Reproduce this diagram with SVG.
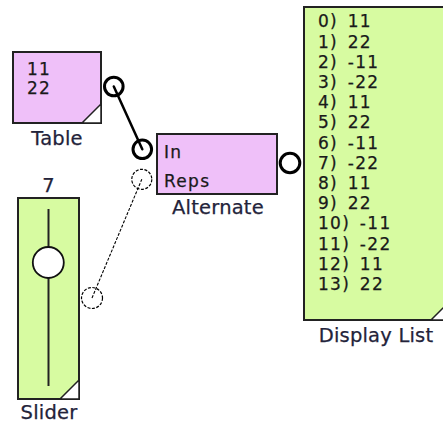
<svg xmlns="http://www.w3.org/2000/svg" width="443" height="426" viewBox="0 0 443 426">
<style>
.box{stroke:#222;stroke-width:2}
.pink{fill:#efc0f9}
.green{fill:#d7fba1}
.corner{fill:#fff;stroke:#222;stroke-width:1.5;stroke-linejoin:miter}
.lbl{font-family:"DejaVu Sans",Verdana,sans-serif;font-size:19.5px;fill:#23233a;letter-spacing:0.2px;stroke:#23233a;stroke-width:0.25}
.txt{font-family:"DejaVu Sans",Verdana,sans-serif;font-size:17px;fill:#1a1a1a;letter-spacing:1.3px;word-spacing:3px;stroke:#1a1a1a;stroke-width:0.25}
.port{fill:#fff;stroke:#000;stroke-width:3}
.dport{fill:#fff;stroke:#000;stroke-width:1.2;stroke-dasharray:3 1.5}
.wire{stroke:#000;stroke-width:2.5;fill:none;stroke-linecap:round}
.dwire{stroke:#000;stroke-width:1.1;fill:none;stroke-dasharray:3 1.5}
</style>
<rect width="443" height="426" fill="#fff"/>

<g id="table">
  <rect class="box pink" x="13" y="52" width="88" height="71"/>
  <polygon class="corner" points="82,123 101,123 101,104"/>
  <text class="txt" x="27" y="75">11</text>
  <text class="txt" x="27" y="94">22</text>
  <text class="lbl" x="57" y="145" text-anchor="middle">Table</text>
  <circle class="port" cx="113.8" cy="86.5" r="9.3"/>
</g>

<g id="alternate">
  <rect class="box pink" x="157" y="134" width="120" height="60"/>
  <text class="txt" x="164" y="158">In</text>
  <text class="txt" x="164" y="186.5">Reps</text>
  <text class="lbl" x="218" y="214" text-anchor="middle">Alternate</text>
  <circle class="port" cx="142.3" cy="149.3" r="9.3"/>
  <circle class="dport" cx="141.8" cy="179.3" r="10"/>
  <circle class="port" cx="290" cy="163" r="9.8"/>
</g>

<g id="slider">
  <text class="lbl" x="48.5" y="192" text-anchor="middle">7</text>
  <rect class="box green" x="18" y="198" width="61" height="201"/>
  <line x1="48.5" y1="209" x2="48.5" y2="386" stroke="#222" stroke-width="2"/>
  <circle cx="48.3" cy="262.5" r="15.5" fill="#fff" stroke="#111" stroke-width="1.8"/>
  <polygon class="corner" points="60,399 79,399 79,380"/>
  <text class="lbl" x="49" y="419.3" text-anchor="middle">Slider</text>
  <circle class="dport" cx="92" cy="298" r="10.5"/>
</g>

<g id="displaylist">
  <rect class="box green" x="304" y="7" width="146" height="313"/>
  <polygon class="corner" points="431,320 450,320 450,301"/>
  <g class="txt">
    <text x="318" y="27.3">0) 11</text>
    <text x="318" y="47.5">1) 22</text>
    <text x="318" y="67.7">2) -11</text>
    <text x="318" y="87.9">3) -22</text>
    <text x="318" y="108.1">4) 11</text>
    <text x="318" y="128.3">5) 22</text>
    <text x="318" y="148.5">6) -11</text>
    <text x="318" y="168.7">7) -22</text>
    <text x="318" y="188.9">8) 11</text>
    <text x="318" y="209.1">9) 22</text>
    <text x="318" y="229.3">10) -11</text>
    <text x="318" y="249.5">11) -22</text>
    <text x="318" y="269.7">12) 11</text>
    <text x="318" y="289.9">13) 22</text>
  </g>
  <text class="lbl" x="376" y="341.7" text-anchor="middle">Display List</text>
</g>

<g id="connectors">
  <line class="wire" x1="113.8" y1="86.5" x2="142.3" y2="149.3"/>
  <line class="dwire" x1="92" y1="298" x2="141.8" y2="179.3"/>
</g>
</svg>
